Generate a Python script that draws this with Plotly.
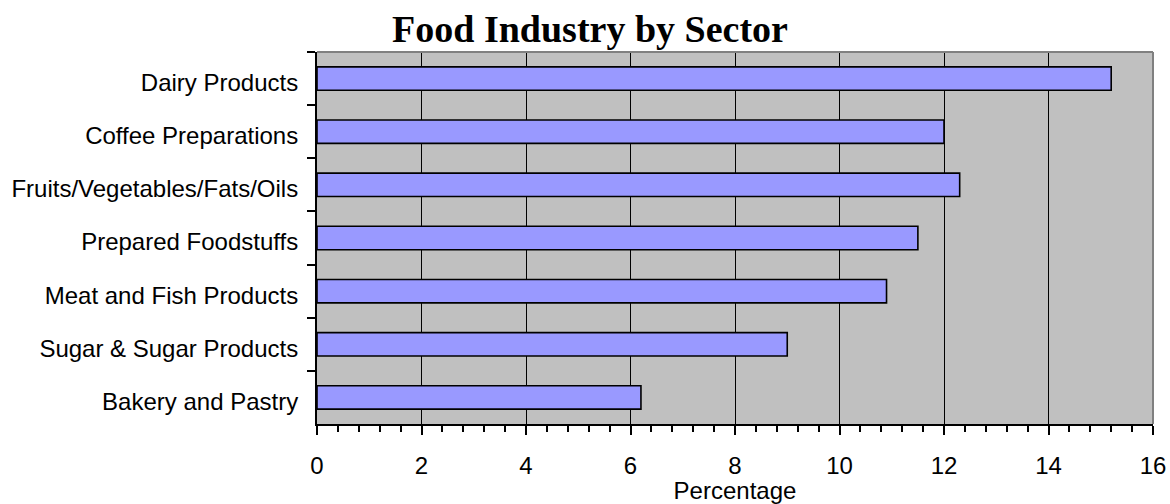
import plotly.graph_objects as go

# Sectors listed top to bottom, with their share in percent
sectors = [
    "Dairy Products",
    "Coffee Preparations",
    "Fruits/Vegetables/Fats/Oils",
    "Prepared Foodstuffs",
    "Meat and Fish Products",
    "Sugar & Sugar Products",
    "Bakery and Pastry",
]
percentages = [15.2, 12.0, 12.3, 11.5, 10.9, 9.0, 6.2]

x_ticks = [0, 2, 4, 6, 8, 10, 12, 14, 16]

fig = go.Figure()
fig.add_trace(go.Bar(
    y=sectors,
    x=percentages,
    orientation="h",
    marker=dict(color="#9999FF", line=dict(color="black", width=1.6)),
    hoverinfo="x+y",
))

fig.update_layout(
    width=1170,
    height=504,
    margin=dict(l=317, r=17, t=52, b=80, autoexpand=False),
    paper_bgcolor="white",
    plot_bgcolor="#C0C0C0",
    bargap=0.56,
    showlegend=False,
    title=dict(
        text="<b>Food Industry by Sector</b>",
        font=dict(family="Liberation Serif, Times New Roman, serif", size=38, color="black"),
        x=590 / 1170, xanchor="center",
        xref="container",
        y=1 - 29 / 504, yref="container", yanchor="middle",
    ),
    font=dict(family="Liberation Sans, Arial, sans-serif", color="black"),
    xaxis=dict(
        range=[0, 16],
        tickvals=x_ticks,
        ticktext=[str(v) for v in x_ticks],
        tickfont=dict(size=24),
        ticklabelstandoff=10,
        showgrid=True,
        gridcolor="black",
        gridwidth=1,
        showline=True,
        linecolor="black",
        linewidth=2,
        ticks="outside",
        ticklen=9,
        tickwidth=2,
        tickcolor="black",
        minor=dict(dtick=0.4, tick0=0, ticks="outside", ticklen=6,
                   tickwidth=2, tickcolor="black", showgrid=False),
        zeroline=False,
        fixedrange=True,
        automargin=False,
        title=dict(text="Percentage", font=dict(size=24), standoff=0),
    ),
    # overlay axis that only carries the upper half of the crossing minor ticks
    xaxis2=dict(
        overlaying="x",
        anchor="y",
        side="bottom",
        range=[0, 16],
        showgrid=False,
        showticklabels=False,
        showline=False,
        ticks="inside",
        ticklen=6,
        tickwidth=2,
        tickcolor="black",
        tickvals=x_ticks,
        minor=dict(dtick=0.4, tick0=0, ticks="inside", ticklen=6,
                   tickwidth=2, tickcolor="black", showgrid=False),
        zeroline=False,
        fixedrange=True,
        automargin=False,
    ),
    yaxis=dict(
        categoryorder="array",
        categoryarray=sectors,
        autorange="reversed",
        tickfont=dict(size=24),
        showline=True,
        linecolor="black",
        linewidth=2,
        ticks="outside",
        tickson="boundaries",
        ticklen=8,
        tickwidth=2,
        tickcolor="black",
        showgrid=False,
        fixedrange=True,
        automargin=False,
        ticklabelstandoff=12,
        ticklabelshift=-4,
    ),
    shapes=[
        dict(type="line", xref="x domain", yref="y domain",
             x0=0, x1=1, y0=1, y1=1, line=dict(color="#808080", width=2), layer="above"),
        dict(type="line", xref="x domain", yref="y domain",
             x0=1, x1=1, y0=0, y1=1, line=dict(color="#808080", width=2), layer="above"),
    ],
)

fig.write_html("out.html")
